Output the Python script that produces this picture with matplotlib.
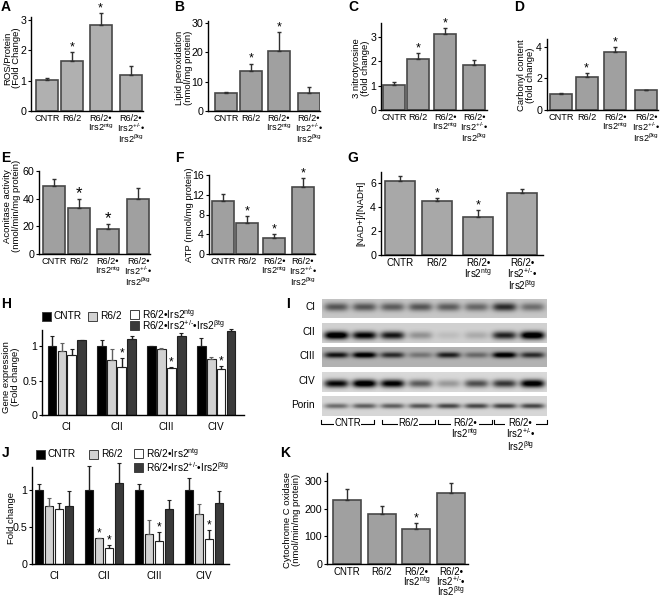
"""Mitochondrial panels A-K, laid out in pixels of the 665x595 figure."""

import numpy as np
import matplotlib
matplotlib.use('Agg')
import matplotlib.pyplot as plt
from matplotlib.patches import Rectangle

plt.rcParams['font.family'] = ['Liberation Sans', 'DejaVu Sans']
plt.rcParams['mathtext.fontset'] = 'custom'
plt.rcParams['mathtext.rm'] = 'Liberation Sans'
plt.rcParams['mathtext.default'] = 'rm'

W, H = 665, 595

GENOTYPES = ['CNTR', 'R6/2', 'R6/2•\nIrs2$^{ntg}$', 'R6/2•\nIrs2$^{+/‐}$•\nIrs2$^{βtg}$']
COMPLEXES = ['CI', 'CII', 'CIII', 'CIV']
LEGEND_NAMES = ['CNTR', 'R6/2', 'R6/2•Irs2$^{ntg}$', 'R6/2•Irs2$^{+/‐}$•Irs2$^{βtg}$']

# the figure spaces its four genotypes a little wider towards the right
SLOTS = [0, 1, 2.12, 3.32]
EVEN_SLOTS = [0, 1, 2, 3]

# single bar panels: value, upper error, significant
ros = [1.02, 1.65, 2.85, 1.2]
ros_err = [0.08, 0.3, 0.37, 0.3]
ros_star = [0, 1, 1, 0]
lipid = [6.3, 13.8, 20.5, 6.1]
lipid_err = [0.3, 2.4, 6.5, 2.2]
lipid_star = [0, 1, 1, 0]
nitro = [1.02, 2.1, 3.12, 1.85]
nitro_err = [0.12, 0.22, 0.25, 0.22]
nitro_star = [0, 1, 1, 0]
carbonyl = [1.03, 2.1, 3.65, 1.25]
carbonyl_err = [0.03, 0.22, 0.35, 0.03]
carbonyl_star = [0, 1, 1, 0]
aconitase = [49.5, 33.5, 18, 39.5]
aconitase_err = [5, 6, 3.5, 8]
aconitase_star = [0, 1, 1, 0]
atp = [10.7, 6.2, 3.2, 13.5]
atp_err = [1.5, 1.4, 0.8, 1.8]
atp_star = [0, 1, 1, 1]
nad = [6.15, 4.45, 3.2, 5.15]
nad_err = [0.4, 0.25, 0.5, 0.35]
nad_star = [0, 1, 1, 0]
cox = [233, 180, 127, 256]
cox_err = [38, 30, 22, 38]
cox_star = [0, 0, 1, 0]

# grouped panels: one row per complex, one column per genotype
gene_expr = [[1.0, 0.93, 0.87, 1.09],
             [1.0, 0.79, 0.70, 1.10],
             [1.0, 0.95, 0.68, 1.14],
             [1.0, 0.81, 0.67, 1.22]]
gene_expr_err = [[0.14, 0.12, 0.08, 0.0],
                 [0.08, 0.16, 0.12, 0.05],
                 [0.0, 0.02, 0.01, 0.05],
                 [0.12, 0.03, 0.04, 0.02]]
gene_expr_star = [[0, 0, 0, 0], [0, 0, 1, 0], [0, 0, 1, 0], [0, 0, 1, 0]]
fold = [[1.0, 0.79, 0.74, 0.79],
        [1.0, 0.35, 0.22, 1.09],
        [1.0, 0.41, 0.31, 0.74],
        [1.0, 0.68, 0.34, 0.82]]
fold_err = [[0.08, 0.1, 0.09, 0.2],
            [0.32, 0.005, 0.03, 0.28],
            [0.08, 0.18, 0.12, 0.13],
            [0.16, 0.13, 0.12, 0.17]]
fold_star = [[0, 0, 0, 0], [0, 1, 1, 0], [0, 0, 1, 0], [0, 0, 1, 0]]

# blot band darkness per lane
blot_names = ['CI', 'CII', 'CIII', 'CIV', 'Porin']
blot_ci = [0.45, 0.45, 0.42, 0.45, 0.42, 0.38, 0.62, 0.35]
blot_cii = [1.0, 0.85, 0.75, 0.25, 0.08, 0.15, 0.7, 1.0]
blot_ciii = [0.65, 0.8, 0.55, 0.25, 0.6, 0.3, 0.8, 0.55]
blot_civ = [0.85, 1.0, 0.9, 0.5, 0.25, 0.55, 0.65, 0.95]
blot_porin = [0.42, 0.48, 0.48, 0.52, 0.58, 0.58, 0.6, 0.58]
blot_groups = ['CNTR', 'R6/2', 'R6/2•\nIrs2$^{ntg}$', 'R6/2•\nIrs2$^{+/‐}$•\nIrs2$^{βtg}$']


def px_axes(fig, left, right, top, bottom):
    """Axes whose box is given in image pixels, y counted from the top."""
    ax = fig.add_axes([left / W, 1 - bottom / H, (right - left) / W, (bottom - top) / H])
    ax.patch.set_alpha(0)
    ax.spines['top'].set_visible(False)
    ax.spines['right'].set_visible(False)
    ax.spines['left'].set_linewidth(1.0)
    ax.spines['bottom'].set_linewidth(1.0)
    ax.tick_params(axis='y', length=2.5, width=0.8, pad=1, labelsize=7.7)
    ax.tick_params(axis='x', length=0, pad=2.5, labelsize=6.6)
    return ax


def place_ylabel(ax, box, text, label_px):
    """Centre the y label on a pixel spot, (x, y) from the top left of the image."""
    left, right, top, bottom = box
    ax.set_ylabel(text, fontsize=6.8, linespacing=0.92, va='center')
    ax.yaxis.set_label_coords((label_px[0] - left) / (right - left),
                              (bottom - label_px[1]) / (bottom - top))


def add_star(ax, x, y, size=9):
    ax.annotate('*', (x, y), xytext=(0, -1), textcoords='offset points',
                ha='center', va='bottom', fontsize=size, annotation_clip=False)


def bar_panel(fig, box, centers, bar_px, ymax, ticks, values, errs, stars, ylabel, label_px,
              color='#a0a0a0', slots=SLOTS, star_size=9, label_size=6.6, label_spacing=0.82):
    ax = px_axes(fig, *box)
    unit = (centers[1] - centers[0]) / slots[-1]
    ax.bar(slots, values, width=bar_px / unit, color=color, edgecolor='#484848', linewidth=1.2)
    ax.errorbar(slots, values, yerr=[np.zeros(len(errs)), errs], fmt='none', ecolor='#303030',
                elinewidth=1.0, capsize=1.5, capthick=1.0, clip_on=False)
    ax.set_xlim((box[0] - centers[0]) / unit, (box[1] - centers[0]) / unit)
    ax.set_ylim(0, ymax)
    ax.set_yticks(ticks)
    ax.set_xticks(slots)
    ax.set_xticklabels(GENOTYPES, va='top', linespacing=label_spacing, fontsize=label_size)
    place_ylabel(ax, box, ylabel, label_px)
    for x, v, e, s in zip(slots, values, errs, stars):
        if s:
            add_star(ax, x, v + e, star_size)
    return ax


def group_panel(fig, box, ymax, ticks, values, errs, stars, ylabel, xlim, label_px):
    ax = px_axes(fig, *box)
    colors = ['#000000', '#d2d2d2', '#ffffff', '#3a3a3a']
    values = np.array(values)
    errs = np.array(errs)
    stars = np.array(stars)
    xs = np.arange(len(COMPLEXES))
    for i, color in enumerate(colors):
        pos = xs + (i - 1.5) * 0.2
        ax.bar(pos, values[:, i], width=0.175, color=color, edgecolor='#202020', linewidth=0.8)
        ax.errorbar(pos, values[:, i], yerr=[np.zeros(4), errs[:, i]], fmt='none',
                    ecolor='#202020' if i != 1 else '#606060', elinewidth=1.0,
                    capsize=1.2, capthick=0.8, clip_on=False)
        for x, v, e, s in zip(pos, values[:, i], errs[:, i], stars[:, i]):
            if s:
                add_star(ax, x, v + e, size=8.5)
    ax.set_xlim(*xlim)
    ax.set_ylim(0, ymax)
    ax.set_yticks(ticks)
    ax.set_yticklabels(['0', '0.5', '1'])
    ax.set_xticks(xs)
    ax.set_xticklabels(COMPLEXES, fontsize=7.2)
    ax.tick_params(axis='x', pad=5)
    place_ylabel(ax, box, ylabel, label_px)
    return ax


def legend_swatch(ov, x, y, color, text):
    ov.add_patch(Rectangle((x, y - 4), 8.5, 8.5, facecolor=color, edgecolor='#404040', linewidth=0.7))
    ov.text(x + 12, y, text, fontsize=7.3, va='center', ha='left')


def draw_blot(ov):
    lefts, rights = 322, 547
    rows = [(299, 318, blot_ci, 0.22, 0.42, 0.22),
            (323, 343, blot_cii, 0.18, 0.62, 0.20),
            (347, 367, blot_ciii, 0.30, 0.40, 0.15),
            (372, 392, blot_civ, 0.15, 0.58, 0.20),
            (396, 416, blot_porin, 0.16, 0.50, 0.13)]
    for (top, bottom, bands, bg, yc, ys), name in zip(rows, blot_names):
        yy, xx = np.mgrid[0:1:60j, 0:1:225j]
        dark = np.full(yy.shape, bg)
        for i, strength in enumerate(bands):
            xc = (i + 0.5) / 8
            across = np.exp(-((xx - xc) / 0.054) ** 4)
            dark += strength * np.exp(-((yy - yc) / ys) ** 2) * across
        ov.imshow(1 - np.clip(dark, 0, 1), extent=(lefts, rights, bottom, top), cmap='gray',
                  vmin=0, vmax=1, aspect='auto', interpolation='bilinear', zorder=1)
        ov.text(315, (top + bottom) / 2 - 1, name, fontsize=7.3, ha='right', va='center')
    spans = [(321, 374), (382, 435), (438, 492), (494, 547)]
    for (a, b), name in zip(spans, blot_groups):
        ov.plot([a, a, b, b], [420, 424, 424, 420], color='black', lw=0.8, zorder=2)
        ov.text((a + b) / 2, 417.5, name, fontsize=6.9, ha='center', va='top', linespacing=0.9,
                bbox=dict(facecolor='white', edgecolor='none', pad=0.3), zorder=3)


fig = plt.figure(figsize=(W / 100, H / 100), dpi=100)
ov = fig.add_axes([0, 0, 1, 1])
ov.set_axis_off()

bar_panel(fig, (31, 143, 17, 111), (47, 131), 22, 3.1, [0, 1, 2, 3], ros, ros_err, ros_star,
          'ROS/Protein\n(Fold Change)', (12, 58), color='#b0b0b0')
bar_panel(fig, (208, 320, 21, 111), (226, 309), 22, 30.7, [0, 10, 20, 30], lipid, lipid_err, lipid_star,
          'Lipid peroxidation\n(nmol/mg protein)', (184, 68))
bar_panel(fig, (381, 487, 23, 110), (394, 474), 22, 3.57, [0, 1, 2, 3], nitro, nitro_err, nitro_star,
          '3 nitrotyrosine\n(fold change)', (361, 68))
bar_panel(fig, (547, 658, 39, 110), (561, 646), 22, 4.5, [0, 2, 4], carbonyl, carbonyl_err, carbonyl_star,
          'Carbonyl content\n(fold change)', (526, 75))
bar_panel(fig, (39, 150, 171, 254), (54, 138), 22, 60, [0, 20, 40, 60], aconitase, aconitase_err, aconitase_star,
          'Aconitase activity\n(nmol/min/mg protein)', (12, 206), star_size=12)
bar_panel(fig, (209, 315, 175, 254), (223, 303), 22, 16, [0, 4, 8, 12, 16], atp, atp_err, atp_star,
          'ATP (nmol/mg protein)', (190, 215))
bar_panel(fig, (381, 543, 172, 255), (400, 522), 30, 6.9, [0, 2, 4, 6], nad, nad_err, nad_star,
          '[NAD+]/[NADH]', (361, 213), color='#a8a8a8', label_size=7.1)
bar_panel(fig, (327, 468, 473, 564), (347, 451), 28, 330, [0, 100, 200, 300], cox, cox_err, cox_star,
          'Cytochrome C oxidase\n(nmol/min/mg protein)', (292, 520), slots=EVEN_SLOTS,
          label_size=7.0, label_spacing=0.7)

group_panel(fig, (42, 244, 330, 415), 1.232, [0, 0.5, 1], gene_expr, gene_expr_err, gene_expr_star,
            'Gene expression\n(Fold change)', (-0.5, 3.56), (11, 377))
group_panel(fig, (32, 229, 467, 564), 1.31, [0, 0.5, 1], fold, fold_err, fold_star,
            'Fold change', (-0.44, 3.5), (12, 518))

for letter, x, y in [('A', 1, 7), ('B', 174, 7), ('C', 348, 7), ('D', 514, 7),
                     ('E', 1, 158), ('F', 175, 158), ('G', 347, 158),
                     ('H', 1, 304), ('I', 286, 304), ('J', 2, 453), ('K', 280, 453)]:
    ov.text(x, y, letter, fontsize=10, fontweight='bold', ha='left', va='center')

legend_colors = ['#000000', '#d2d2d2', '#ffffff', '#3a3a3a']
for (x, y), color, name in zip([(42, 316), (88, 316), (130, 314), (130, 325)], legend_colors, LEGEND_NAMES):
    legend_swatch(ov, x, y, color, name)
for (x, y), color, name in zip([(36, 454), (89, 454), (134, 453), (134, 467)], legend_colors, LEGEND_NAMES):
    legend_swatch(ov, x, y, color, name)

draw_blot(ov)

ov.set_xlim(0, W)
ov.set_ylim(H, 0)

fig.savefig('out.png', dpi=100)
